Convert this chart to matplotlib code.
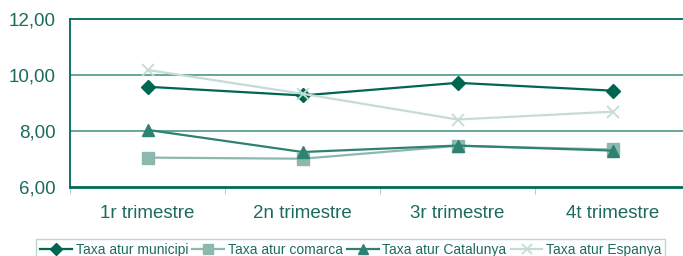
import numpy as np
from matplotlib import pyplot as plt

plt.rcParams['font.family'] = ['Liberation Sans', 'DejaVu Sans']

# dades
trimestres = ['1r trimestre', '2n trimestre', '3r trimestre', '4t trimestre']
municipi = [9.58, 9.27, 9.72, 9.44]
comarca = [7.05, 7.01, 7.47, 7.34]
catalunya = [8.04, 7.25, 7.48, 7.30]
espanya = [10.18, 9.33, 8.41, 8.69]

teal = '#006a56'
text_col = '#1d6b5c'

fig = plt.figure(figsize=(6.83, 2.56), dpi=100)
ax = fig.add_axes([70/683, 69/256, 620/683, 168/256])

x = np.arange(len(trimestres))
ax.plot(x, municipi, color='#006650', marker='D', markersize=7, lw=1.6, label='Taxa atur municipi')
ax.plot(x, comarca, color='#8cb8ad', marker='s', markersize=8, lw=1.6, label='Taxa atur comarca')
ax.plot(x, catalunya, color='#2f8272', marker='^', markersize=8.5, lw=1.6, label='Taxa atur Catalunya')
ax.plot(x, espanya, color='#c5dcd6', marker='x', markersize=9, mew=1.3, lw=1.6, label='Taxa atur Espanya')

ax.set_xlim(-0.5, 3.5)
ax.set_ylim(6, 12)
ax.set_yticks([6, 8, 10, 12])
ax.set_yticklabels(['6,00', '8,00', '10,00', '12,00'])
ax.set_xticks(x)
ax.set_xticklabels(trimestres)
ax.set_xticks(np.arange(-0.5, 4, 1), minor=True)
ax.tick_params(axis='x', which='major', length=0, pad=13, labelsize=13.5, labelcolor=text_col)
ax.tick_params(axis='x', which='minor', length=5, color='#9cc3ba', direction='out')
ax.tick_params(axis='y', length=0, pad=10, labelsize=13.5, labelcolor=text_col)

for yv in [8, 10]:
    ax.axhline(yv, color='#4d9a88', lw=1.2, zorder=0)

for s in ['left', 'top', 'right']:
    ax.spines[s].set_color(teal)
    ax.spines[s].set_linewidth(1.3)
ax.spines['bottom'].set_color(teal)
ax.spines['bottom'].set_linewidth(2)

leg = fig.legend(loc='upper left', bbox_to_anchor=(36/683, 1 - 239/256), ncol=4,
                 fontsize=10, frameon=True, fancybox=False, handlelength=2.3,
                 handletextpad=0.25, columnspacing=0.3, borderpad=0.3,
                 borderaxespad=0, markerscale=0.85)
leg.get_frame().set_edgecolor('#a8cfc6')
leg.get_frame().set_linewidth(1)
for t in leg.get_texts():
    t.set_color(text_col)

plt.savefig('out.png', dpi=100)
